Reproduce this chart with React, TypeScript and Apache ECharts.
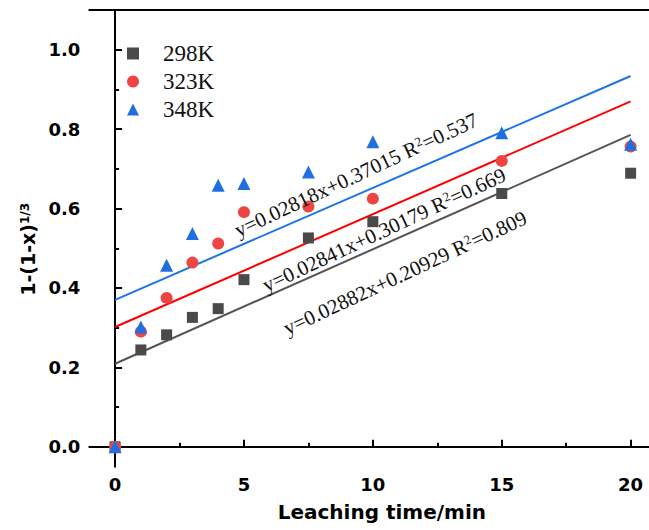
import React, { useEffect, useRef } from "react";
import * as echarts from "echarts";

const times = [0, 1, 2, 3, 4, 5, 7.5, 10, 15, 20];
const seriesNames = ["298K", "323K", "348K"];
const s298 = [0, 0.244, 0.282, 0.326, 0.348, 0.421, 0.526, 0.567, 0.638, 0.689];
const s323 = [0, 0.29, 0.375, 0.464, 0.512, 0.591, 0.605, 0.625, 0.72, 0.756];
const s348 = [0, 0.302, 0.457, 0.537, 0.659, 0.663, 0.692, 0.768, 0.791, 0.762];
const fitSlopes = [0.02882, 0.02841, 0.02818];
const fitIntercepts = [0.20929, 0.30179, 0.37015];
const fitR2 = ["0.809", "0.669", "0.537"];
const fitRange = [0, 20];
const xMajorTicks = [0, 5, 10, 15, 20];
const xMinorTicks = [2.5, 7.5, 12.5, 17.5];
const yMajorTicks = [0, 0.2, 0.4, 0.6, 0.8, 1.0];
const yMinorTicks = [0.1, 0.3, 0.5, 0.7, 0.9];

const markerColors = ["#4a4a4a", "#ef4444", "#1f6fe0"];
const lineColors = ["#555555", "#ff0000", "#1c74e6"];
const symbols = ["rect", "circle", "triangle"];
const symbolSizes = [11, 12, 13];
const annotationPos = [
  [405, 273],
  [384, 230],
  [356, 175],
];

const SANS = '"DejaVu Sans", Arial, sans-serif';
const SERIF = '"Times New Roman", "Liberation Serif", serif';

export default function App() {
  const ref = useRef<HTMLDivElement>(null);
  useEffect(() => {
    if (!ref.current) return;
    const chart = echarts.init(ref.current, null, { renderer: "svg" });
    const values = [s298, s323, s348];
    const xMin = -1;
    const xMax = 21;
    const yMin = -0.05;
    const yMax = 1.1;
    const scatterSeries = values.map((v, i) => ({
      name: seriesNames[i],
      type: "scatter",
      xAxisIndex: 0,
      yAxisIndex: 0,
      symbol: symbols[i],
      symbolSize: symbolSizes[i],
      itemStyle: { color: markerColors[i], opacity: 1 },
      data: times.map((t, k) => [t, v[k]]),
      z: 5 + i,
    }));
    const fitSeries = fitSlopes.map((m, i) => ({
      name: "fit" + i,
      type: "line",
      xAxisIndex: 0,
      yAxisIndex: 0,
      showSymbol: false,
      symbol: "none",
      lineStyle: { color: lineColors[i], width: 2 },
      data: fitRange.map((x) => [x, m * x + fitIntercepts[i]]),
      z: 3,
      silent: true,
    }));
    const annotations = fitSlopes.map((m, i) => ({
      type: "text",
      x: annotationPos[i][0],
      y: annotationPos[i][1],
      rotation: (25 * Math.PI) / 180,
      z: 100,
      style: {
        text: `y=${m}x+${fitIntercepts[i]} R{s|2}=${fitR2[i]}`,
        fontSize: 21,
        fontFamily: SERIF,
        fill: "#111111",
        align: "center",
        verticalAlign: "middle",
        rich: {
          s: { fontSize: 13, fontFamily: SERIF, verticalAlign: "top", lineHeight: 12, fill: "#111111" },
        },
      },
    }));
    const axisLine = { show: true, lineStyle: { color: "#000", width: 2 } };
    chart.setOption({
      animation: false,
      backgroundColor: "#fff",
      grid: { left: 89.3, right: 23.6, top: 10, bottom: 63.3, containLabel: false },
      legend: {
        data: seriesNames,
        orient: "vertical",
        left: 122,
        top: 37,
        itemWidth: 12,
        itemHeight: 12,
        itemGap: 5,
        textStyle: { fontSize: 23, fontFamily: SERIF, color: "#111", padding: [0, 0, 0, 19] },
      },
      xAxis: [
        {
          type: "value",
          position: "bottom",
          min: xMin,
          max: xMax,
          axisLine,
          splitLine: { show: false },
          axisTick: { show: true, inside: true, length: 7, customValues: xMajorTicks, lineStyle: { color: "#000", width: 2 } },
          axisLabel: { customValues: xMajorTicks, margin: 9, fontSize: 18, fontWeight: "bold", fontFamily: SANS, color: "#000" },
          name: "Leaching time/min",
          nameLocation: "middle",
          nameGap: 35,
          nameTextStyle: { fontSize: 20, fontWeight: "bold", fontFamily: SANS, color: "#000", padding: [0, 0, 0, 18] },
        },
        {
          type: "value",
          position: "bottom",
          min: xMin,
          max: xMax,
          axisLine: { show: false },
          splitLine: { show: false },
          axisTick: { show: true, inside: true, length: 4, customValues: xMinorTicks, lineStyle: { color: "#000", width: 2 } },
          axisLabel: { show: false },
        },
        {
          type: "value",
          position: "top",
          min: xMin,
          max: xMax,
          axisLine,
          splitLine: { show: false },
          axisTick: { show: false },
          axisLabel: { show: false },
        },
      ],
      yAxis: [
        {
          type: "value",
          position: "left",
          min: yMin,
          max: yMax,
          axisLine,
          splitLine: { show: false },
          axisTick: { show: true, inside: true, length: 7, customValues: yMajorTicks, lineStyle: { color: "#000", width: 2 } },
          axisLabel: {
            customValues: yMajorTicks,
            margin: 9,
            fontSize: 18,
            fontWeight: "bold",
            fontFamily: SANS,
            color: "#000",
            formatter: (v: number) => v.toFixed(1),
          },
          name: "{a|1-(1-x)}{s|1/3}",
          nameLocation: "middle",
          nameRotate: 90,
          nameGap: 46,
          nameTextStyle: {
            fontSize: 19,
            fontWeight: "bold",
            fontFamily: SANS,
            color: "#000",
            padding: [0, 22, 0, 0],
            rich: {
              a: { fontSize: 19, fontWeight: "bold", fontFamily: SANS, color: "#000" },
              s: { fontSize: 12, fontWeight: "bold", fontFamily: SANS, color: "#000", verticalAlign: "top", lineHeight: 12 },
            },
          },
        },
        {
          type: "value",
          position: "left",
          min: yMin,
          max: yMax,
          axisLine: { show: false },
          splitLine: { show: false },
          axisTick: { show: true, inside: true, length: 4, customValues: yMinorTicks, lineStyle: { color: "#000", width: 2 } },
          axisLabel: { show: false },
        },
      ],
      series: [...fitSeries, ...scatterSeries],
      graphic: annotations,
    });
    return () => chart.dispose();
  }, []);
  return (
    <div style={{ position: "fixed", left: 0, top: 0, width: 649, height: 530, overflow: "hidden", background: "#fff" }}>
      <div ref={ref} style={{ width: 680, height: 530 }} />
    </div>
  );
}
